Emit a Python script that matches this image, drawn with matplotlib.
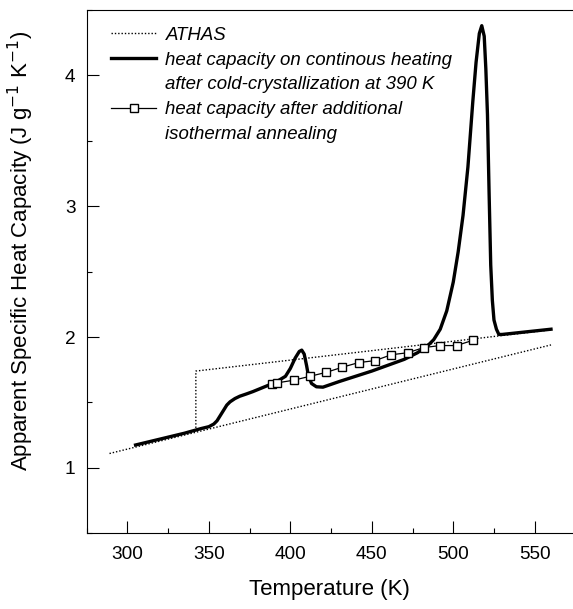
import matplotlib.pyplot as plt
from matplotlib.lines import Line2D
from matplotlib.ticker import MultipleLocator

# ATHAS reference lines (solid and liquid heat capacity)
athas_solid_T = [289, 560]
athas_solid_cp = [1.11, 1.94]
athas_liquid_T = [342, 342, 560]
athas_liquid_cp = [1.28, 1.74, 2.055]

# heat capacity on continuous heating after cold-crystallization at 390 K
heat_T = [305, 320, 335, 345, 350, 353, 355, 357, 359, 361, 363, 366, 369, 373,
          377, 387, 393, 397, 400, 403, 405.5, 407, 408.5, 410, 411, 413, 416,
          420, 430, 440, 450, 460, 470, 478, 484, 488, 492, 496, 500, 503, 506,
          509, 512, 514, 516, 517.5, 519, 520, 521, 522, 523, 524, 525, 526.5,
          528, 530, 545, 560]
heat_cp = [1.175, 1.22, 1.265, 1.30, 1.315, 1.335, 1.36, 1.40, 1.44, 1.48,
           1.505, 1.53, 1.548, 1.565, 1.583, 1.634, 1.67, 1.70, 1.76, 1.84,
           1.89, 1.90, 1.87, 1.78, 1.71, 1.645, 1.62, 1.617, 1.66, 1.70, 1.74,
           1.785, 1.83, 1.88, 1.93, 1.98, 2.06, 2.20, 2.42, 2.65, 2.93, 3.30,
           3.80, 4.10, 4.32, 4.38, 4.30, 4.05, 3.70, 3.10, 2.55, 2.28, 2.13,
           2.06, 2.02, 2.02, 2.04, 2.06]

# heat capacity after additional isothermal annealing
anneal_T = [389, 392, 402, 412, 422, 432, 442, 452, 462, 472, 482, 492, 502, 512]
anneal_cp = [1.64, 1.65, 1.67, 1.70, 1.73, 1.77, 1.805, 1.82, 1.865, 1.88,
             1.92, 1.935, 1.935, 1.975]

plt.rcParams["font.family"] = ["Liberation Sans", "DejaVu Sans"]

fig = plt.figure(figsize=(5.73, 6.09), dpi=100)
ax = fig.add_axes([0.1513, 0.1243, 0.8487, 0.8593])

dot = (0, (1.0, 1.4))
ax.plot(athas_solid_T, athas_solid_cp, color="black", lw=1.0, linestyle=dot)
ax.plot(athas_liquid_T, athas_liquid_cp, color="black", lw=1.0, linestyle=dot)
ax.plot(heat_T, heat_cp, color="black", lw=2.4, solid_joinstyle="round")
ax.plot(anneal_T, anneal_cp, color="black", lw=0.9, marker="s", ms=5.5,
        mfc="white", mec="black", mew=1.0)

ax.set_xlim(275, 573.5)
ax.set_ylim(0.5, 4.5)
ax.xaxis.set_major_locator(MultipleLocator(50))
ax.xaxis.set_minor_locator(MultipleLocator(25))
ax.yaxis.set_major_locator(MultipleLocator(1))
ax.yaxis.set_minor_locator(MultipleLocator(0.5))
ax.tick_params(which="both", direction="in", width=0.8, labelsize=13.7)
ax.tick_params(which="major", length=8.5)
ax.tick_params(which="minor", length=3.5)
ax.tick_params(axis="x", which="major", pad=9)
ax.tick_params(axis="y", which="major", pad=8)
ax.spines["right"].set_visible(False)
for s in ("left", "bottom", "top"):
    ax.spines[s].set_linewidth(0.8)

ax.set_xlabel("Temperature (K)", fontsize=16, labelpad=12)
ax.set_ylabel("Apparent Specific Heat Capacity (J g$^{-1}$ K$^{-1}$)",
              fontsize=16)
ax.yaxis.set_label_coords(-0.104, 0.54)

blank = Line2D([], [], color="none")
handles = [
    Line2D([], [], color="black", lw=1.0, linestyle=dot),
    Line2D([], [], color="black", lw=2.4),
    blank,
    Line2D([], [], color="black", lw=0.9, marker="s", ms=5.5, mfc="white",
           mec="black", mew=1.0),
    blank,
]
labels = [
    "ATHAS",
    "heat capacity on continous heating",
    "after cold-crystallization at 390 K",
    "heat capacity after additional",
    "isothermal annealing",
]
leg = ax.legend(handles, labels, loc="upper left", bbox_to_anchor=(0.051, 0.968),
                frameon=False, borderpad=0, borderaxespad=0, handlelength=2.4,
                handletextpad=0.5, labelspacing=0.42,
                prop={"style": "italic", "size": 13.4})

fig.savefig("out.png", dpi=100)
